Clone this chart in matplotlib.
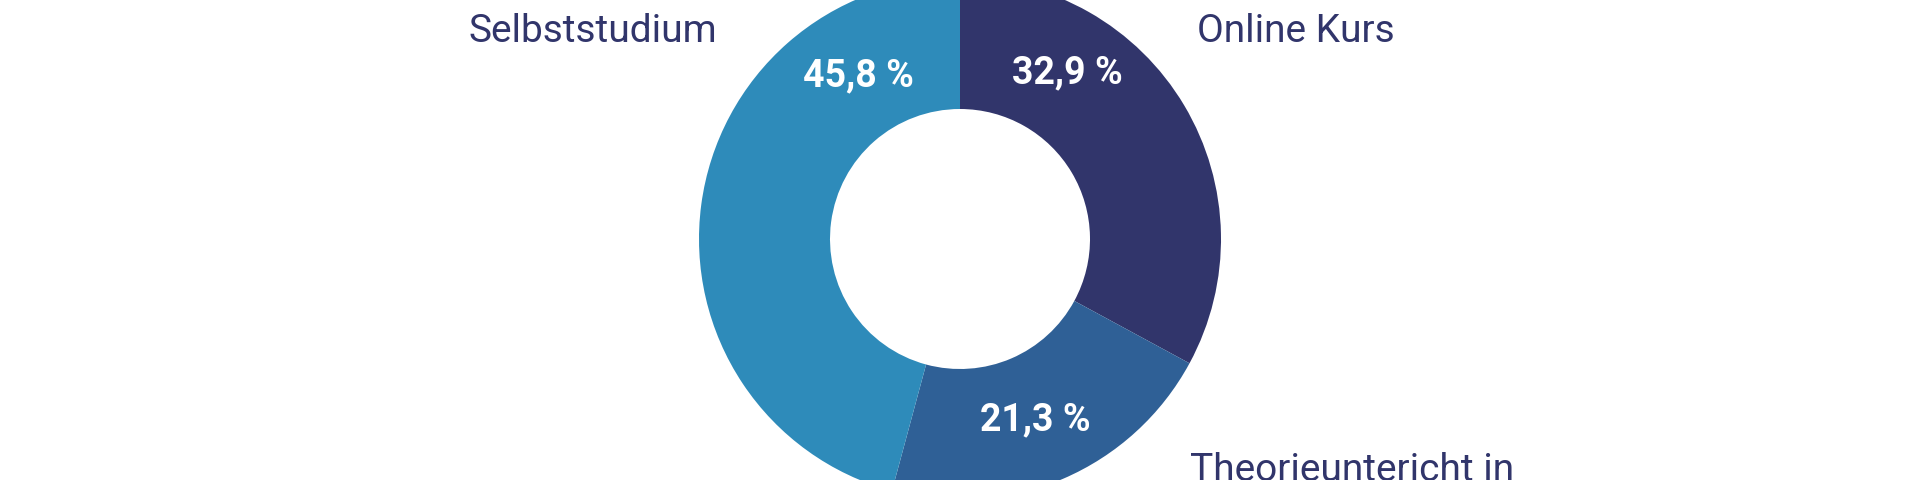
import numpy as np
import matplotlib
matplotlib.use("Agg")
import matplotlib.pyplot as plt

# data
categories = ["Online Kurs", "Theorieuntericht in", "Selbststudium"]
shares = [32.9, 21.3, 45.8]
colors = ["#31356B", "#2F6096", "#2E8BBA"]

text_color = "#31356B"
plt.rcParams['font.family'] = ['Roboto', 'DejaVu Sans']

fig = plt.figure(figsize=(19.2, 4.8), dpi=100)
ax = fig.add_axes([0, 0, 1, 1])

cx, cy = 960, 241
r_out, r_in = 261, 130

ax.pie(shares, colors=colors, startangle=90, counterclock=False,
       center=(cx, cy), radius=r_out,
       wedgeprops=dict(width=r_out - r_in, linewidth=0))

ax.set_xlim(0, 1920)
ax.set_ylim(0, 480)
ax.set_aspect('equal')
ax.axis('off')

# Prozentwerte im Ring
label_angles = [57, -67.5, 122]
label_r = [198, 196, 192]
for v, a, r in zip(shares, label_angles, label_r):
    t = np.deg2rad(a)
    ax.text(cx + r * np.cos(t), cy + r * np.sin(t),
            f"{v:.1f} %".replace('.', ','), ha='center', va='center',
            color='white', fontsize=27, fontweight='bold')

# Kategorien
ax.text(1197, 449, categories[0], ha='left', va='center', fontsize=28, color=text_color)
ax.text(1190, 28, categories[1], ha='left', va='top', fontsize=28, color=text_color)
ax.text(469, 449, categories[2], ha='left', va='center', fontsize=28, color=text_color)

plt.savefig('out.png', dpi=100)
